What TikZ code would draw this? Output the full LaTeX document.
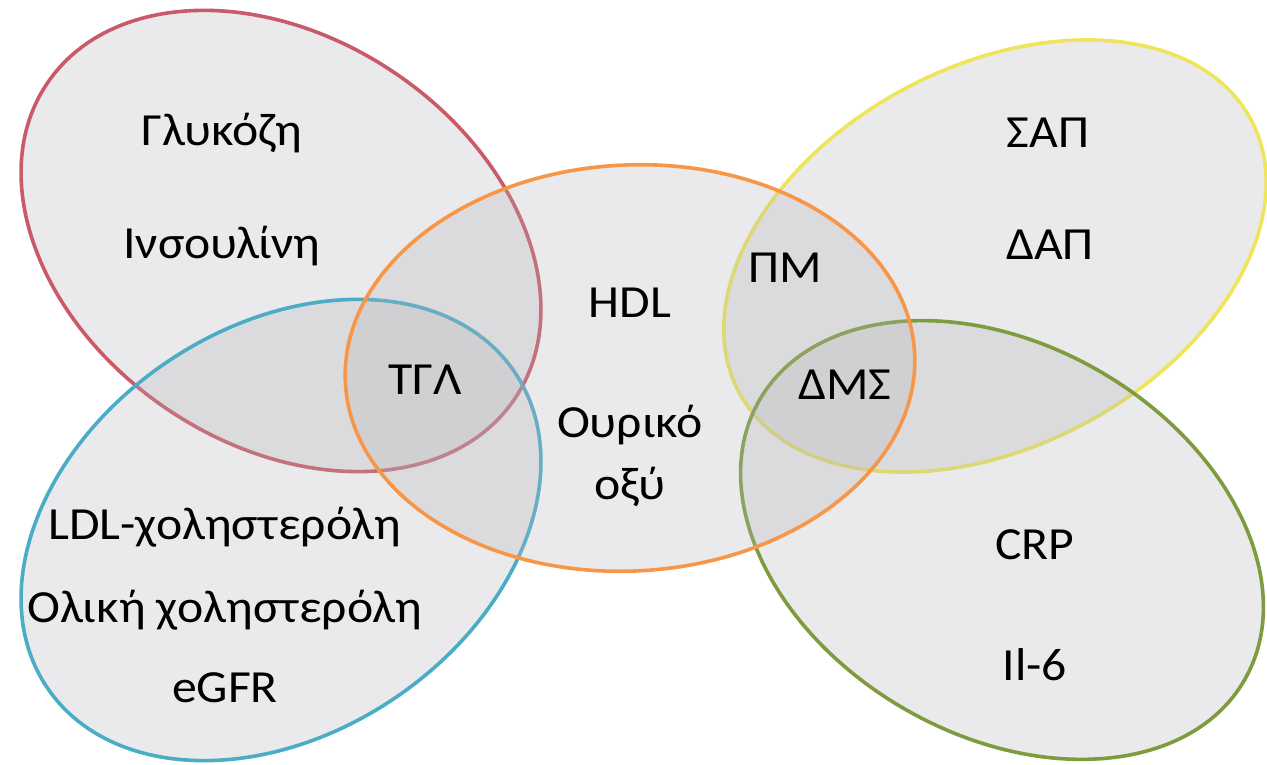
\documentclass[tikz,border=0pt]{standalone}
\usepackage{fontspec}
\setmainfont{Carlito}
\definecolor{cred}{HTML}{C95A68}
\definecolor{cblue}{HTML}{4BACC6}
\definecolor{corange}{HTML}{F79646}
\definecolor{cyellow}{HTML}{EEE55A}
\definecolor{cgreen}{HTML}{7E9B3E}
\definecolor{cfill}{HTML}{B4B5B9}
\tikzset{
  setshape/.style={fill=cfill, fill opacity=0.27, line width=3.6pt},
  lbl/.style={font=\fontsize{46}{52}\selectfont, text=black, inner sep=0pt, xscale=1.08, transform shape}
}
\begin{document}
\begin{tikzpicture}[x=1pt,y=1pt]
\useasboundingbox (0,0) rectangle (1267,-765);
\fill[white] (0,0) rectangle (1267,-765);
% ellipses, drawn in layering order
\draw[setshape, draw=cred]    (281,-241) ellipse [x radius=282, y radius=203, rotate=-34];
\draw[setshape, draw=cyellow] (995,-256) ellipse [x radius=290, y radius=190, rotate=28];
\draw[setshape, draw=cblue]   (281,-530) ellipse [x radius=282, y radius=203, rotate=34];
\draw[setshape, draw=cgreen]  (1002,-540) ellipse [x radius=280, y radius=195, rotate=-30];
\draw[setshape, draw=corange] (630,-368) ellipse [x radius=285, y radius=203, rotate=3];
% labels
\node[lbl] (glu) at (222,-133) {Γλυκόζη};
\node[lbl] (ins) at (222,-246) {Ινσουλίνη};
\node[lbl] (tgl) at (425,-380) {ΤΓΛ};
\node[lbl] (hdl) at (630,-303) {HDL};
\node[lbl] (our) at (630,-425) {Ουρικό};
\node[lbl] (oxy) at (630,-487) {οξύ};
\node[lbl] (pm)  at (785,-268) {ΠΜ};
\node[lbl] (dms) at (845,-385) {ΔΜΣ};
\node[lbl] (sap) at (1048,-133) {ΣΑΠ};
\node[lbl] (dap) at (1050,-245) {ΔΑΠ};
\node[lbl] (ldl) at (225,-527) {LDL-χοληστερόλη};
\node[lbl] (tot) at (225,-610) {Ολική χοληστερόλη};
\node[lbl] (egfr) at (225,-688) {eGFR};
\node[lbl] (crp) at (1035,-545) {CRP};
\node[lbl] (il6) at (1035,-665) {Il-6};
\end{tikzpicture}
\end{document}
